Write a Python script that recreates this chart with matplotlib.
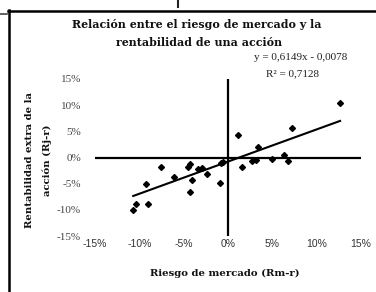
import matplotlib
matplotlib.use('Agg')
import matplotlib.pyplot as plt
from matplotlib.lines import Line2D
import numpy as np

# market excess return (%) and stock excess return (%)
x_vals = [-10.69, -10.38, -9.03, -9.3, -7.56, -6.09, -4.48, -4.29, -4.10, -4.29,
          -3.35, -2.97, -2.34, -0.90, -0.79, -0.56, 1.09, 1.54, 2.67, 3.13,
          3.35, 4.93, 6.32, 6.74, 7.19, 12.64]
y_vals = [-10.06, -8.80, -8.80, -5.0, -1.88, -3.81, -1.74, -1.16, -4.26, -6.52,
          -2.22, -1.93, -3.09, -4.93, -0.97, -0.87, 4.31, -1.88, -0.72, -0.39,
          1.99, -0.25, 0.44, -0.72, 5.57, 10.5]
slope = 0.6149
intercept = -0.0078
r2 = 0.7128
ticks = [-15, -10, -5, 0, 5, 10, 15]

W, H = 376, 292
fig = plt.figure(figsize=(W / 100, H / 100), dpi=100)
fig.patch.set_facecolor('white')

def fx(px):
    return px / W

def fy(py):
    return 1 - py / H

ax = fig.add_axes([fx(95), fy(236), fx(361) - fx(95), fy(79) - fy(236)])
ax.set_xlim(-15, 15)
ax.set_ylim(-15, 15)
for s in ax.spines.values():
    s.set_visible(False)
ax.axhline(0, color='black', lw=1.6, zorder=2)
ax.axvline(0, color='black', lw=1.6, zorder=2)

ax.plot(x_vals, y_vals, linestyle='none', marker='D', markersize=3.0,
        color='black', zorder=4)

# linear trendline over the data range
xt = np.array([min(x_vals), max(x_vals)])
yt = slope * xt + intercept * 100
ax.plot(xt, yt, color='black', lw=1.5, zorder=3)

ax.set_xticks(ticks)
ax.set_yticks(ticks)
ax.set_xticklabels([f'{t}%' for t in ticks], fontfamily='Liberation Sans',
                   fontsize=7.5, color='#333333')
ax.set_yticklabels([f'{t}%' for t in ticks], fontfamily='Liberation Serif',
                   fontsize=8, color='#444444')
ax.tick_params(axis='both', length=0)
ax.tick_params(axis='x', pad=2)
ax.tick_params(axis='y', pad=10)

title_kw = dict(fontfamily='DejaVu Serif', fontweight='bold', fontsize=7.9,
                ha='center', va='center', color='#111111')
fig.text(fx(197), fy(25), 'Relación entre el riesgo de mercado y la', **title_kw)
fig.text(fx(199), fy(43), 'rentabilidad de una acción', **title_kw)

lab_kw = dict(fontfamily='DejaVu Serif', fontweight='bold', fontsize=7.3,
              ha='center', va='center', color='#111111')
fig.text(fx(225), fy(273), 'Riesgo de mercado (Rm-r)', **lab_kw)
fig.text(fx(30), fy(160), 'Rentabilidad extra de la', rotation=90, **lab_kw)
fig.text(fx(47), fy(160), 'acción (Rj-r)', rotation=90, **lab_kw)

eq_kw = dict(fontfamily='Liberation Serif', fontsize=8, ha='center',
             va='center', color='#222222')
fig.text(fx(301), fy(57), f'y = {slope:.4f}x - {abs(intercept):.4f}'.replace('.', ','), **eq_kw)
fig.text(fx(292), fy(74), f'R² = {r2:.4f}'.replace('.', ','), **eq_kw)

# surrounding frame from the document
fig.add_artist(Line2D([fx(8.5), fx(8.5)], [fy(10), 0], color='black', lw=1.8))
fig.add_artist(Line2D([fx(8), 1], [fy(10.5), fy(10.5)], color='black', lw=1.8))
fig.add_artist(Line2D([0, fx(7)], [fy(14), fy(14)], color='#444444', lw=1.2))
fig.add_artist(Line2D([fx(178), fx(178)], [1, fy(7)], color='#222222', lw=1.5))

fig.savefig('out.png', dpi=100)
